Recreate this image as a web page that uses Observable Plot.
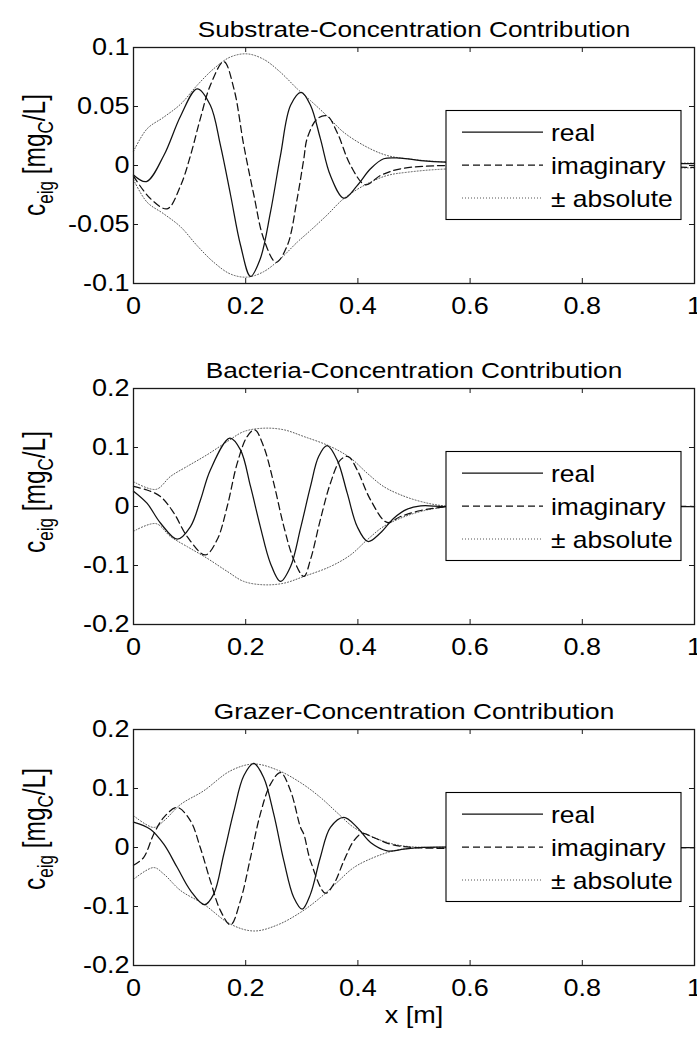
<!DOCTYPE html>
<html><head><meta charset="utf-8">
<script src="https://cdn.jsdelivr.net/npm/d3@7"></script>
<script src="https://cdn.jsdelivr.net/npm/@observablehq/plot@0.6"></script>
<style>
body{margin:0;background:#fff;}
#chart{width:697px;}
#chart svg{display:block;}
</style></head><body><div id="chart"></div>
<script>
// ---- data ----
const xTicks = [0, 0.2, 0.4, 0.6, 0.8, 1];
const yTicksSubstrate = [-0.1, -0.05, 0, 0.05, 0.1];
const yTicksOther = [-0.2, -0.1, 0, 0.1, 0.2];
const titles = ["Substrate-Concentration Contribution", "Bacteria-Concentration Contribution", "Grazer-Concentration Contribution"];
const legendLabels = ["real", "imaginary", "\u00B1 absolute"];
const xLabel = "x [m]";

// [x, value] pairs
const substrateReal = [[0,-0.008],[0.023,-0.0136],[0.054,0.0085],[0.084,0.042],[0.1135,0.065],[0.137,0.051],[0.155,0.017],[0.173,-0.025],[0.191,-0.068],[0.2086,-0.094],[0.226,-0.079],[0.244,-0.040],[0.262,0.0085],[0.28,0.051],[0.299,0.062],[0.3155,0.051],[0.333,0.023],[0.351,-0.0085],[0.375,-0.0277],[0.3987,-0.017],[0.4225,-0.0028],[0.446,0.0057],[0.476,0.0062],[0.512,0.0042],[0.556,0.0028],[0.7,0.002],[0.9,0.0017],[1,0.0015]];
const substrateImag = [[0,-0.009],[0.030,-0.028],[0.060,-0.0367],[0.084,-0.017],[0.1016,0.0085],[0.119,0.0395],[0.137,0.068],[0.161,0.088],[0.179,0.065],[0.1966,0.017],[0.2145,-0.025],[0.232,-0.062],[0.254,-0.082],[0.274,-0.068],[0.2918,-0.028],[0.3036,0.0057],[0.3096,0.023],[0.3274,0.0395],[0.345,0.042],[0.363,0.028],[0.387,0.0],[0.4135,-0.0164],[0.44,-0.0085],[0.476,-0.0028],[0.556,0.0],[0.7,-0.001],[1,-0.0015]];
const substrateAbs = [[0,0.012],[0.024,0.031],[0.054,0.041],[0.084,0.052],[0.1135,0.068],[0.143,0.082],[0.173,0.092],[0.2026,0.0946],[0.232,0.090],[0.262,0.079],[0.2918,0.065],[0.3155,0.055],[0.345,0.042],[0.375,0.028],[0.4165,0.0155],[0.452,0.0085],[0.488,0.0057],[0.556,0.003],[0.7,0.0025],[1,0.002]];

const bacteriaReal = [[0,0.026],[0.024,0.0056],[0.048,-0.028],[0.078,-0.0554],[0.1016,-0.034],[0.1194,0.011],[0.137,0.062],[0.1717,0.1158],[0.1907,0.096],[0.2086,0.034],[0.226,-0.034],[0.244,-0.096],[0.262,-0.127],[0.28,-0.1017],[0.2977,-0.037],[0.3155,0.034],[0.330,0.0847],[0.345,0.103],[0.363,0.079],[0.381,0.0226],[0.3987,-0.034],[0.4177,-0.0593],[0.44,-0.045],[0.464,-0.0198],[0.488,-0.0045],[0.512,0.001],[0.556,0],[0.8,0],[1,0]];
const bacteriaImag = [[0,0.034],[0.024,0.028],[0.048,0.017],[0.072,-0.011],[0.0957,-0.051],[0.128,-0.082],[0.149,-0.0565],[0.167,0],[0.1848,0.073],[0.2026,0.1186],[0.216,0.130],[0.232,0.1017],[0.250,0.0395],[0.268,-0.034],[0.2857,-0.090],[0.3036,-0.1186],[0.3155,-0.090],[0.333,-0.0226],[0.351,0.0395],[0.369,0.079],[0.3827,0.0847],[0.3987,0.062],[0.4225,0.0113],[0.452,-0.027],[0.476,-0.017],[0.512,-0.0068],[0.556,-0.001],[0.8,0],[1,0]];
const bacteriaAbs = [[0,0.042],[0.04,0.029],[0.066,0.051],[0.0957,0.068],[0.131,0.0876],[0.167,0.110],[0.1966,0.127],[0.232,0.1327],[0.268,0.130],[0.3036,0.1186],[0.351,0.1017],[0.387,0.082],[0.4165,0.0565],[0.4456,0.034],[0.476,0.0198],[0.512,0.0085],[0.556,0.001],[0.8,0],[1,0]];

const grazerReal = [[0,0.043],[0.030,0.031],[0.054,0.0056],[0.078,-0.034],[0.1016,-0.073],[0.1266,-0.097],[0.143,-0.079],[0.161,-0.011],[0.179,0.062],[0.1966,0.1215],[0.2145,0.1424],[0.232,0.1186],[0.250,0.0565],[0.268,-0.0226],[0.2857,-0.0847],[0.3007,-0.1045],[0.3155,-0.079],[0.333,-0.017],[0.351,0.034],[0.375,0.051],[0.3987,0.034],[0.4225,0.0085],[0.452,-0.0056],[0.482,-0.0028],[0.51,0],[0.8,0],[1,0]];
const grazerImag = [[0,-0.030],[0.018,-0.017],[0.036,0.0226],[0.054,0.051],[0.078,0.0678],[0.1016,0.045],[0.119,0],[0.137,-0.0565],[0.155,-0.107],[0.173,-0.131],[0.1907,-0.090],[0.2086,-0.017],[0.226,0.0565],[0.244,0.107],[0.262,0.127],[0.28,0.096],[0.2977,0.034],[0.3036,0.0226],[0.3155,-0.0226],[0.342,-0.0774],[0.357,-0.062],[0.375,-0.0226],[0.3927,0.0113],[0.4076,0.0237],[0.428,0.017],[0.458,0.0056],[0.5,0],[0.8,0],[1,0]];
const grazerAbs = [[0,0.054],[0.036,0.034],[0.054,0.045],[0.084,0.073],[0.125,0.096],[0.173,0.130],[0.2145,0.1415],[0.256,0.1315],[0.2977,0.110],[0.333,0.085],[0.363,0.059],[0.3927,0.034],[0.428,0.017],[0.464,0.0056],[0.5,0.001],[0.8,0],[1,0]];

// ---- layout ----
const FONT = "'Liberation Sans', Arial, Helvetica, sans-serif";
const SX = 1.15; // horizontal text stretch seen in the reference
const TICK_FS = 23.5, TITLE_FS = 22.8, LEG_FS = 23;
const INK = "#1a1a1a";
const panels = [
  {title: titles[0], real: substrateReal, imag: substrateImag, abs: substrateAbs, yDomain: [-0.1, 0.1], yTicks: yTicksSubstrate, height: 335, marginTop: 47, marginBottom: 52, labelCy: 155},
  {title: titles[1], real: bacteriaReal, imag: bacteriaImag, abs: bacteriaAbs, yDomain: [-0.2, 0.2], yTicks: yTicksOther, height: 335, marginTop: 53, marginBottom: 46, labelCy: 157},
  {title: titles[2], real: grazerReal, imag: grazerImag, abs: grazerAbs, yDomain: [-0.2, 0.2], yTicks: yTicksOther, height: 368, marginTop: 59, marginBottom: 73, labelCy: 159, xLabel: true}
];
const W = 697, ML = 133, MR = 3;
const lineStyles = [
  {stroke: "#111", strokeWidth: 1.25, strokeDasharray: null},
  {stroke: "#111", strokeWidth: 1.25, strokeDasharray: "7,4"},
  {stroke: "#555", strokeWidth: 1, strokeDasharray: "1,2"}
];

function makePanel(p) {
  const fw = W - ML - MR;
  const fh = p.height - p.marginTop - p.marginBottom;
  const toObj = arr => arr.map(([x, v]) => ({x, v}));
  const real = toObj(p.real), imag = toObj(p.imag), abs = toObj(p.abs);
  const sty = s => ({stroke: s.stroke, strokeWidth: s.strokeWidth, strokeDasharray: s.strokeDasharray, curve: "catmull-rom"});
  const marks = [
    Plot.line(abs, {x: "x", y: "v", ...sty(lineStyles[2])}),
    Plot.line(abs, {x: "x", y: d => -d.v, ...sty(lineStyles[2])}),
    Plot.line(imag, {x: "x", y: "v", ...sty(lineStyles[1])}),
    Plot.line(real, {x: "x", y: "v", ...sty(lineStyles[0])}),
    Plot.ruleX(xTicks, {x: d => d, insetTop: fh - 5, stroke: INK}),
    Plot.ruleX(xTicks, {x: d => d, insetBottom: fh - 5, stroke: INK}),
    Plot.ruleY(p.yTicks, {y: d => d, insetRight: fw - 5, stroke: INK}),
    Plot.ruleY(p.yTicks, {y: d => d, insetLeft: fw - 5, stroke: INK}),
    Plot.frame({stroke: INK, strokeWidth: 1.3}),
    Plot.axisX(xTicks, {anchor: "bottom", tickSize: 0, tickPadding: 14, tickFormat: d => String(d), label: null, fontSize: TICK_FS, fill: "#000"}),
    Plot.axisY(p.yTicks, {anchor: "left", tickSize: 0, tickPadding: 4, tickFormat: d => String(d), label: null, fontSize: TICK_FS, fill: "#000"}),
    Plot.text([p.title], {text: d => d, frameAnchor: "top", dy: -27, fontSize: TITLE_FS, fill: "#000"})
  ];
  if (p.xLabel) marks.push(Plot.text([xLabel], {text: d => d, frameAnchor: "bottom", dy: 57, fontSize: TICK_FS, fill: "#000"}));
  const svg = Plot.plot({
    width: W, height: p.height,
    marginLeft: ML, marginRight: MR, marginTop: p.marginTop, marginBottom: p.marginBottom,
    style: {fontFamily: FONT, fontSize: "22px", color: "#000", background: "#fff", overflow: "visible"},
    x: {domain: [0, 1], label: null},
    y: {domain: p.yDomain, label: null},
    marks
  });
  // horizontal stretch of all texts
  d3.select(svg).selectAll("text").each(function () {
    const t = this.getAttribute("transform");
    if (t) this.setAttribute("transform", t + ` scale(${SX},1)`);
    else {
      const x = +this.getAttribute("x") || 0, y = +this.getAttribute("y") || 0;
      this.setAttribute("transform", `translate(${x},${y}) scale(${SX},1) translate(${-x},${-y})`);
    }
  });
  const root = d3.select(svg);
  // y label with subscripts
  const yl = root.append("text")
    .attr("transform", `translate(45,${p.labelCy}) rotate(-90) scale(1,1.25)`)
    .attr("text-anchor", "middle").attr("font-family", FONT).attr("font-size", 24.5).attr("fill", "#000");
  yl.append("tspan").text("c");
  yl.append("tspan").attr("font-size", 17).attr("dy", 6).text("eig");
  yl.append("tspan").attr("dy", -6).text(" [mg");
  yl.append("tspan").attr("font-size", 17).attr("dy", 6).text("C");
  yl.append("tspan").attr("dy", -6).text("/L]");
  // legend inside the frame
  const right = W - MR, cy = p.marginTop + fh / 2;
  const g = root.append("g");
  g.append("rect").attr("x", right - 248).attr("y", cy - 54.5).attr("width", 235).attr("height", 109)
    .attr("fill", "#fff").attr("stroke", "#000").attr("stroke-width", 1.1);
  legendLabels.forEach((lab, i) => {
    const y = cy + (i - 1) * 33;
    const s = lineStyles[i];
    g.append("line").attr("x1", right - 232).attr("x2", right - 151).attr("y1", y).attr("y2", y)
      .attr("stroke", s.stroke).attr("stroke-width", s.strokeWidth).attr("stroke-dasharray", s.strokeDasharray);
    g.append("text").attr("transform", `translate(${right - 143},${y + 8.5}) scale(${SX},1)`)
      .attr("text-anchor", "start")
      .attr("font-family", FONT).attr("font-size", LEG_FS).attr("fill", "#000").text(lab);
  });
  return svg;
}

const chart = document.getElementById("chart");
panels.forEach(p => chart.appendChild(makePanel(p)));
</script>
</body></html>
